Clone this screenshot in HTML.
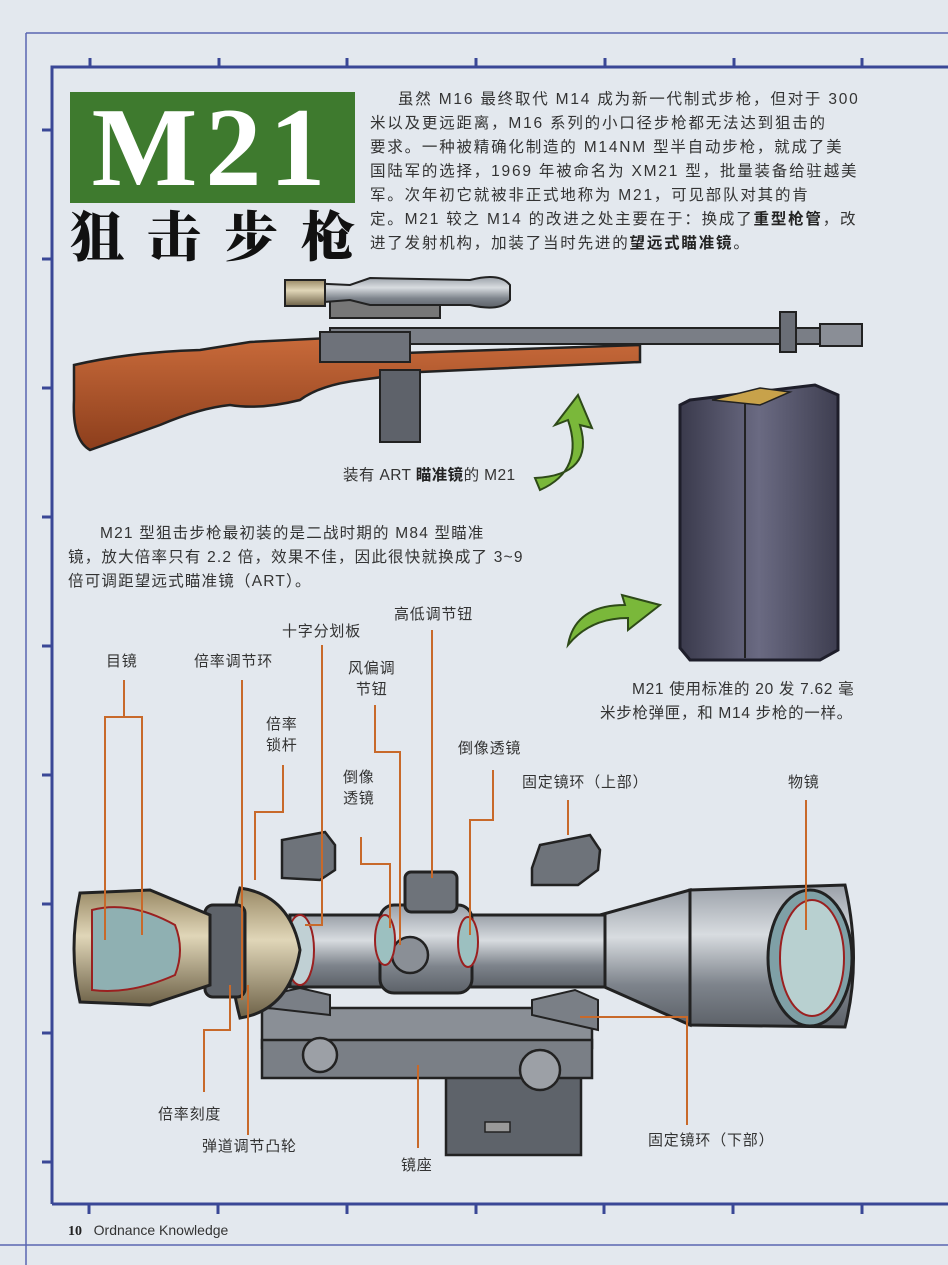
<!DOCTYPE html>
<html><head><meta charset="utf-8"><style>
body{margin:0;width:948px;height:1265px;overflow:hidden;background:#e3e8ee;font-family:"Liberation Sans","Noto Sans CJK SC",sans-serif;color:#333;}
.t{position:absolute;font-size:15.5px;line-height:24px;white-space:nowrap;letter-spacing:1.8px}
.p2{letter-spacing:1.2px}
.l{position:absolute;font-size:15px;white-space:nowrap;color:#333;text-align:center;line-height:21px;letter-spacing:0.8px}
b{font-weight:bold;color:#222}
</style></head><body>
<svg width="948" height="1265" style="position:absolute;left:0;top:0">
<defs>
<linearGradient id="tube" x1="0" y1="0" x2="0" y2="1"><stop offset="0" stop-color="#9aa0a8"/><stop offset=".35" stop-color="#d8dce0"/><stop offset=".7" stop-color="#7e848c"/><stop offset="1" stop-color="#5c6168"/></linearGradient>
<linearGradient id="gold" x1="0" y1="0" x2="0" y2="1"><stop offset="0" stop-color="#9a8a66"/><stop offset=".4" stop-color="#e0d6b8"/><stop offset="1" stop-color="#6e6248"/></linearGradient>
<linearGradient id="wood" x1="0" y1="0" x2="0" y2="1"><stop offset="0" stop-color="#c86a3a"/><stop offset="1" stop-color="#8c3e1c"/></linearGradient>
<linearGradient id="mag" x1="0" y1="0" x2="1" y2="0"><stop offset="0" stop-color="#3a3a4c"/><stop offset=".5" stop-color="#6a6a82"/><stop offset="1" stop-color="#3e3e50"/></linearGradient>
</defs>
<line x1="26" y1="33" x2="948" y2="33" stroke="#5a66b0" stroke-width="1.5"/>
<line x1="26" y1="33" x2="26" y2="1265" stroke="#5a66b0" stroke-width="1.5"/>
<line x1="0" y1="1245" x2="948" y2="1245" stroke="#5a66b0" stroke-width="1.5"/>
<path d="M52 1204 V67 H948" fill="none" stroke="#3a4796" stroke-width="3"/>
<line x1="52" y1="1204" x2="948" y2="1204" stroke="#3a4796" stroke-width="3"/>
<g stroke="#3a4796" stroke-width="3">
<line x1="90" y1="58" x2="90" y2="67"/><line x1="219" y1="58" x2="219" y2="67"/><line x1="347" y1="58" x2="347" y2="67"/><line x1="476" y1="58" x2="476" y2="67"/><line x1="605" y1="58" x2="605" y2="67"/><line x1="734" y1="58" x2="734" y2="67"/><line x1="862" y1="58" x2="862" y2="67"/>
<line x1="42" y1="130" x2="52" y2="130"/><line x1="42" y1="259" x2="52" y2="259"/><line x1="42" y1="388" x2="52" y2="388"/><line x1="42" y1="517" x2="52" y2="517"/><line x1="42" y1="646" x2="52" y2="646"/><line x1="42" y1="775" x2="52" y2="775"/><line x1="42" y1="904" x2="52" y2="904"/><line x1="42" y1="1033" x2="52" y2="1033"/><line x1="42" y1="1162" x2="52" y2="1162"/>
<line x1="89" y1="1204" x2="89" y2="1214"/><line x1="218" y1="1204" x2="218" y2="1214"/><line x1="347" y1="1204" x2="347" y2="1214"/><line x1="476" y1="1204" x2="476" y2="1214"/><line x1="604" y1="1204" x2="604" y2="1214"/><line x1="733" y1="1204" x2="733" y2="1214"/><line x1="862" y1="1204" x2="862" y2="1214"/>
</g>
<rect x="70" y="92" width="285" height="111" fill="#3e7a2e"/>
<rect x="330" y="328" width="500" height="16" fill="#7a7e86" stroke="#222" stroke-width="2"/>
<rect x="820" y="324" width="42" height="22" fill="#8a8e96" stroke="#222" stroke-width="2"/>
<rect x="780" y="312" width="16" height="40" fill="#6a6e76" stroke="#222" stroke-width="2"/>
<path d="M74 365 Q130 352 200 350 L250 342 L330 338 L345 355 L640 345 L640 362 L420 372 L360 380 Q320 385 300 400 Q260 410 230 405 Q200 408 160 425 L90 450 Q72 440 74 400 Z" fill="url(#wood)" stroke="#222" stroke-width="2.5"/>
<rect x="380" y="370" width="40" height="72" fill="#5e626a" stroke="#222" stroke-width="2"/>
<rect x="320" y="332" width="90" height="30" fill="#6e727a" stroke="#222" stroke-width="2"/>
<rect x="330" y="298" width="110" height="20" fill="#777" stroke="#222" stroke-width="2"/>
<path d="M285 282 L350 285 L370 278 L470 280 Q500 272 510 285 L510 300 Q500 312 470 305 L370 305 L350 300 L285 305 Z" fill="url(#tube)" stroke="#222" stroke-width="2"/>
<rect x="285" y="280" width="40" height="26" fill="url(#gold)" stroke="#222" stroke-width="2"/>
<path d="M690 400 L815 385 L838 395 L838 650 L820 660 L690 660 L680 648 L680 405 Z" fill="url(#mag)" stroke="#1e1e2a" stroke-width="3"/>
<line x1="745" y1="400" x2="745" y2="658" stroke="#222" stroke-width="2"/>
<path d="M712 400 L760 388 L790 392 L760 405 Z" fill="#c8a24a" stroke="#222" stroke-width="1.5"/>
<path d="M540 490 Q585 470 568 420 L555 425 L578 395 L592 428 L580 425 Q595 475 535 478 Z" fill="#7ab83a" stroke="#2e4a18" stroke-width="2"/>
<path d="M568 645 Q575 605 625 605 L622 595 L660 605 L628 630 L628 618 Q590 618 568 645 Z" fill="#7ab83a" stroke="#2e4a18" stroke-width="2"/>
<path d="M282 862 L282 840 L325 832 L335 845 L335 870 L320 880 L282 878 Z" fill="#6e737a" stroke="#222" stroke-width="2.5"/>
<path d="M532 868 L540 845 L590 835 L600 850 L598 870 L578 885 L532 885 Z" fill="#6e737a" stroke="#222" stroke-width="2.5"/>
<rect x="446" y="1070" width="135" height="85" fill="#5e636a" stroke="#222" stroke-width="2.5"/>
<rect x="262" y="1008" width="330" height="40" fill="#8a8f96" stroke="#222" stroke-width="2.5"/>
<rect x="262" y="1040" width="330" height="38" fill="#7a7f86" stroke="#222" stroke-width="2.5"/>
<circle cx="320" cy="1055" r="17" fill="#9ca0a6" stroke="#222" stroke-width="2.5"/>
<circle cx="540" cy="1070" r="20" fill="#9ca0a6" stroke="#222" stroke-width="2.5"/>
<path d="M268 1008 L268 995 L300 988 L330 995 L330 1015 Z" fill="#7a7f86" stroke="#222" stroke-width="2"/>
<path d="M532 1015 L532 1000 L575 990 L598 1000 L598 1030 Z" fill="#7a7f86" stroke="#222" stroke-width="2"/>
<rect x="485" y="1122" width="25" height="10" fill="#999" stroke="#222" stroke-width="1.5"/>
<path d="M690 890 L845 885 Q862 960 845 1027 L690 1025 Z" fill="url(#tube)" stroke="#222" stroke-width="3"/>
<ellipse cx="810" cy="958" rx="42" ry="68" fill="#7fa0a6" stroke="#222" stroke-width="3"/>
<ellipse cx="812" cy="958" rx="32" ry="58" fill="#b8d0d0" stroke="#9a2020" stroke-width="2"/>
<path d="M600 915 L690 890 L690 1025 L600 985 Z" fill="url(#tube)" stroke="#222" stroke-width="3"/>
<rect x="290" y="915" width="315" height="72" fill="url(#tube)" stroke="#222" stroke-width="3"/>
<rect x="380" y="905" width="92" height="88" rx="14" fill="url(#tube)" stroke="#222" stroke-width="3"/>
<rect x="405" y="872" width="52" height="40" rx="6" fill="#6e737a" stroke="#222" stroke-width="3"/>
<circle cx="410" cy="955" r="18" fill="#8a8f96" stroke="#222" stroke-width="2.5"/>
<ellipse cx="385" cy="940" rx="10" ry="25" fill="#9cc0c0" stroke="#9a2020" stroke-width="2"/>
<ellipse cx="468" cy="942" rx="10" ry="25" fill="#9cc0c0" stroke="#9a2020" stroke-width="2"/>
<ellipse cx="300" cy="950" rx="14" ry="35" fill="#c0d0d4" stroke="#9a2020" stroke-width="2"/>
<path d="M240 888 Q290 895 300 950 Q290 1010 240 1018 Q222 950 240 888 Z" fill="url(#gold)" stroke="#222" stroke-width="3"/>
<rect x="205" y="905" width="40" height="92" rx="8" fill="#5e636a" stroke="#222" stroke-width="3"/>
<path d="M80 893 L150 890 L210 915 L210 985 L150 1005 L80 1002 Q68 950 80 893 Z" fill="url(#gold)" stroke="#222" stroke-width="3"/>
<path d="M92 910 Q130 900 175 925 Q185 950 175 975 Q130 995 92 990 Z" fill="#8fb0b2" stroke="#9a2020" stroke-width="2"/>
<g fill="none" stroke="#c8692a" stroke-width="2">
<path d="M124 680 V717 M105 940 V717 H142 V935"/>
<path d="M242 680 V1000"/>
<path d="M322 645 V925 H305"/>
<path d="M375 705 V752 H400 V945"/>
<path d="M432 630 V878"/>
<path d="M283 765 V812 H255 V880"/>
<path d="M361 837 V864 H390 V928"/>
<path d="M493 770 V820 H470 V935"/>
<path d="M568 800 V835"/>
<path d="M806 800 V930"/>
<path d="M204 1092 V1030 H230 V985"/>
<path d="M248 1135 V985"/>
<path d="M418 1148 V1065"/>
<path d="M687 1125 V1017 H580"/>
</g>
</svg>
<div style="position:absolute;left:70px;top:84px;width:285px;text-align:center;font:bold 112px/128px 'Liberation Serif',serif;color:#fff;letter-spacing:8px">M21</div>
<div style="position:absolute;left:70px;top:204px;width:340px;white-space:nowrap;font:900 54px/60px 'Noto Serif CJK SC',serif;color:#111;letter-spacing:23px">狙击步枪</div>
<div class="t" style="left:398px;top:88px">虽然 M16 最终取代 M14 成为新一代制式步枪，但对于 300</div>
<div class="t" style="left:370px;top:112px">米以及更远距离，M16 系列的小口径步枪都无法达到狙击的</div>
<div class="t" style="left:370px;top:136px">要求。一种被精确化制造的 M14NM 型半自动步枪，就成了美</div>
<div class="t" style="left:370px;top:160px">国陆军的选择，1969 年被命名为 XM21 型，批量装备给驻越美</div>
<div class="t" style="left:370px;top:184px">军。次年初它就被非正式地称为 M21，可见部队对其的肯</div>
<div class="t" style="left:370px;top:208px">定。M21 较之 M14 的改进之处主要在于：换成了<b>重型枪管</b>，改</div>
<div class="t" style="left:370px;top:232px">进了发射机构，加装了当时先进的<b>望远式瞄准镜</b>。</div>
<div class="t" style="left:343px;top:464px;letter-spacing:0.4px">装有 ART <b>瞄准镜</b>的 M21</div>
<div class="t p2" style="left:100px;top:522px">M21 型狙击步枪最初装的是二战时期的 M84 型瞄准</div>
<div class="t p2" style="left:68px;top:546px">镜，放大倍率只有 2.2 倍，效果不佳，因此很快就换成了 3~9</div>
<div class="t p2" style="left:68px;top:570px">倍可调距望远式瞄准镜（ART）。</div>
<div class="t" style="left:632px;top:678px;letter-spacing:0.7px">M21 使用标准的 20 发 7.62 毫</div>
<div class="t" style="left:600px;top:702px;letter-spacing:0.7px">米步枪弹匣，和 M14 步枪的一样。</div>
<div class="l" style="left:106px;top:651px">目镜</div>
<div class="l" style="left:194px;top:651px">倍率调节环</div>
<div class="l" style="left:282px;top:621px">十字分划板</div>
<div class="l" style="left:394px;top:604px">高低调节钮</div>
<div class="l" style="left:348px;top:658px">风偏调<br>节钮</div>
<div class="l" style="left:266px;top:714px">倍率<br>锁杆</div>
<div class="l" style="left:343px;top:767px">倒像<br>透镜</div>
<div class="l" style="left:458px;top:738px">倒像透镜</div>
<div class="l" style="left:522px;top:772px">固定镜环（上部）</div>
<div class="l" style="left:788px;top:772px">物镜</div>
<div class="l" style="left:158px;top:1104px">倍率刻度</div>
<div class="l" style="left:202px;top:1136px">弹道调节凸轮</div>
<div class="l" style="left:401px;top:1155px">镜座</div>
<div class="l" style="left:648px;top:1130px">固定镜环（下部）</div>
<div style="position:absolute;left:68px;top:1222px;font-size:14px;color:#333"><b style="font-family:'Liberation Serif',serif">10</b>&nbsp;&nbsp; Ordnance Knowledge</div>
</body></html>
